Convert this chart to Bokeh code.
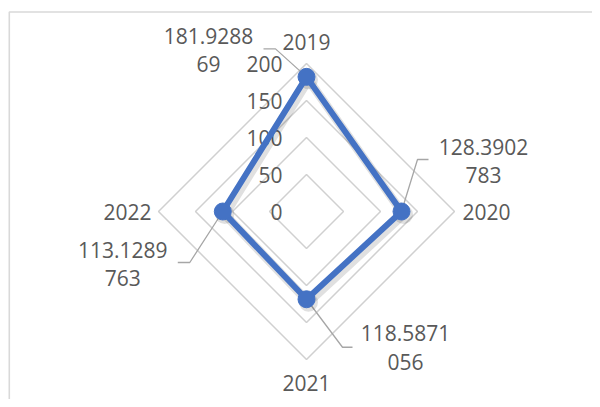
import math
from bokeh.plotting import figure
from bokeh.models import Range1d
from bokeh.core.properties import value
from bokeh.embed import file_html
from bokeh.resources import INLINE

# ---- data ----
categories = ["2019", "2020", "2021", "2022"]
values = [181.928869, 128.3902783, 118.5871056, 113.1289763]
grid_levels = [50, 100, 150, 200]
tick_labels = ["0", "50", "100", "150", "200"]
tick_values = [0, 50, 100, 150, 200]

# ---- layout ----
W, H = 592, 399
S = 0.74            # px per unit
cx, cy = 306, 211   # centre in figure pixels
FONT = value("Open Sans")
FS = "21px"
TXT = "#595959"
GRID = "#d0d0d0"
BLUE = "#4472C4"
LEAD = "#a6a6a6"

p = figure(width=W, height=H, output_backend="svg", toolbar_location=None,
           x_range=Range1d(-cx / S, (W - cx) / S),
           y_range=Range1d(-(H - cy) / S, cy / S),
           min_border=0, outline_line_color=None)
p.axis.visible = False
p.grid.visible = False
p.background_fill_color = "white"
p.border_fill_color = "white"

n = len(categories)
angles = [math.pi / 2 - i * 2 * math.pi / n for i in range(n)]

# chart border (top & left visible)
x0 = p.x_range.start + 8.8 / S
ytop = p.y_range.end - 11.5 / S
p.line([x0, x0, p.x_range.end], [p.y_range.start, ytop, ytop], line_color="#d9d9d9", line_width=1.6)

# grid diamonds
gx = [[lv * math.cos(a) for a in angles] + [lv * math.cos(angles[0])] for lv in grid_levels]
gy = [[lv * math.sin(a) for a in angles] + [lv * math.sin(angles[0])] for lv in grid_levels]
p.multi_line(gx, gy, line_color=GRID, line_width=1.5)

# radial tick labels
p.text(x=[0] * len(tick_values), y=tick_values, text=tick_labels, text_align="right",
       text_baseline="middle", x_offset=-24, text_font=FONT, text_font_size=FS, text_color=TXT)

# category labels
cat_align = ["center", "left", "center", "right"]
cat_off = [(0, -22), (8, 0), (0, 23), (-7, 0)]
for i, c in enumerate(categories):
    p.text(x=[200 * math.cos(angles[i])], y=[200 * math.sin(angles[i])], text=[c],
           text_align=cat_align[i], text_baseline="middle",
           x_offset=cat_off[i][0], y_offset=cat_off[i][1],
           text_font=FONT, text_font_size=FS, text_color=TXT)

# series points
px = [v * math.cos(a) for v, a in zip(values, angles)]
py = [v * math.sin(a) for v, a in zip(values, angles)]

# leader lines (pixel offsets from each point)
lead_off = [
    [(0, 0), (-31, -28), (-43, -28)],
    [(0, 0), (16, -52), (27, -52)],
    [(0, 0), (36, 48), (46, 48)],
    [(0, 0), (-33, 51), (-45, 51)],
]
for i in range(n):
    lx = [px[i] + dx / S for dx, dy in lead_off[i]]
    ly = [py[i] - dy / S for dx, dy in lead_off[i]]
    p.line(lx, ly, line_color=LEAD, line_width=1.3)

# shadow
sx = [x + 2 / S for x in px] + [px[0] + 2 / S]
sy = [y - 3 / S for y in py] + [py[0] - 3 / S]
p.line(sx, sy, line_color="black", line_alpha=0.12, line_width=9, line_join="round")
p.scatter([x + 2 / S for x in px], [y - 3 / S for y in py], size=19, fill_color="black",
          fill_alpha=0.12, line_color=None)

# series line & markers
p.line(px + [px[0]], py + [py[0]], line_color=BLUE, line_width=6, line_join="round")
p.scatter(px, py, size=17, fill_color=BLUE, line_color=BLUE)

# data labels (two lines each)
lab_off = [(-98, -41), (82, -65), (99, 34), (-100, 38)]
for i, v in enumerate(values):
    s = f"{v}"
    l1, l2 = s[:8], s[8:]
    for j, t in enumerate([l1, l2]):
        p.text(x=[px[i]], y=[py[i]], text=[t], text_align="center", text_baseline="middle",
               x_offset=lab_off[i][0], y_offset=lab_off[i][1] + j * 28.5,
               text_font=FONT, text_font_size=FS, text_color=TXT)

open("out.html", "w").write(file_html(p, INLINE))
